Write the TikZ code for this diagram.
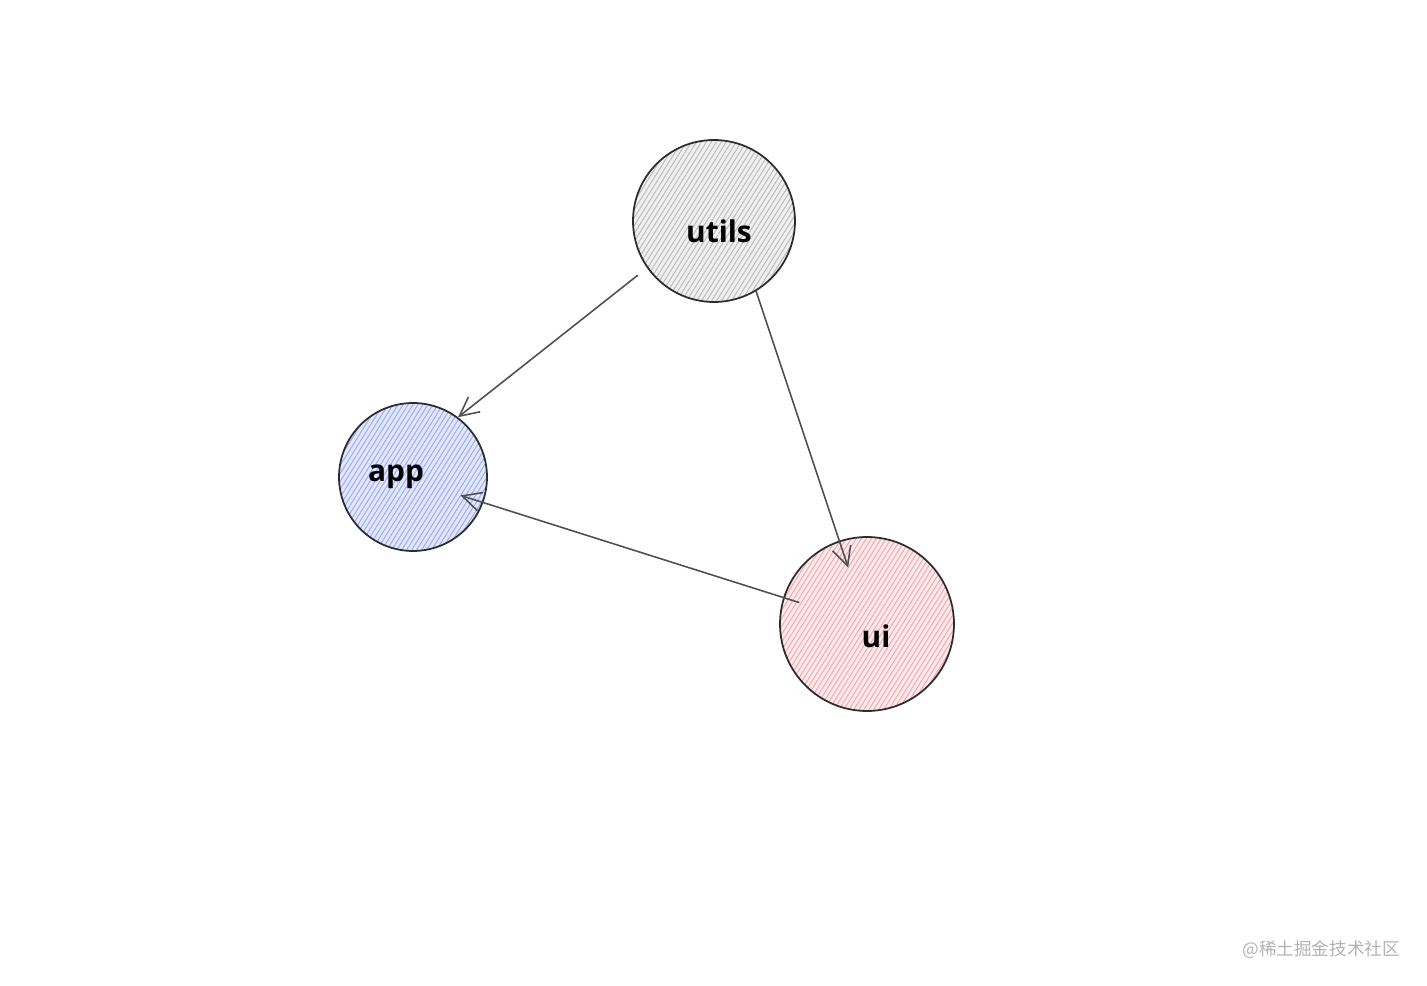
\documentclass[tikz,border=0pt]{standalone}
\usepackage{fontspec}
\setmainfont{Open Sans}
\newfontfamily\cjkfont{Noto Sans CJK SC}
\usetikzlibrary{arrows.meta,patterns.meta}
\definecolor{DepGrayFill}{RGB}{240,240,240}
\definecolor{DepGrayLine}{RGB}{190,190,190}
\definecolor{DepBlueFill}{RGB}{226,231,252}
\definecolor{DepBlueLine}{RGB}{160,174,242}
\definecolor{DepRedFill}{RGB}{252,234,234}
\definecolor{DepRedLine}{RGB}{240,172,180}
\definecolor{DepInk}{RGB}{45,45,45}
\definecolor{DepArrow}{RGB}{80,80,80}
\definecolor{DepMark}{RGB}{178,178,178}

\begin{document}
\begin{tikzpicture}[>={Straight Barb[length=0.38cm,width=0.38cm]},x=0.02cm,y=-0.02cm]
        \tikzset{pkg/.style={circle,draw=DepInk,line width=1pt,pattern={Lines[angle=58,distance=2.4pt,line width=0.6pt]}},lbl/.style={font=\fontsize{17}{20}\selectfont\bfseries,text=black},dep/.style={->,draw=DepArrow,line width=0.9pt}}
        \useasboundingbox (0,0) rectangle (1427,986);
        \node[pkg,preaction={fill=DepGrayFill},pattern color=DepGrayLine,minimum size=3.24cm,label={[lbl,xshift=0.1cm,yshift=-0.2cm]center:utils}] (utils) at (714,221) {};
        \node[pkg,preaction={fill=DepBlueFill},pattern color=DepBlueLine,minimum size=2.96cm,label={[lbl,xshift=-0.34cm]center:app}] (app) at (413,477) {};
        \node[pkg,preaction={fill=DepRedFill},pattern color=DepRedLine,minimum size=3.48cm,label={[lbl,xshift=0.18cm,yshift=-0.24cm]center:ui}] (ui) at (867,624) {};
        \draw[dep,shorten <=0.24cm] (utils.215) -- (app.53);
        \draw[dep,shorten >=1.19cm] (utils.301) -- (ui.center);
        \draw[dep,shorten <=1.42cm,shorten >=-0.48cm] (ui.center) -- (app.-20);
        \node[font=\cjkfont\fontsize{10}{12}\selectfont,text=DepMark,anchor=east] (mark) at (1406,950) {@稀土掘金技术社区};
      \end{tikzpicture}
\end{document}
